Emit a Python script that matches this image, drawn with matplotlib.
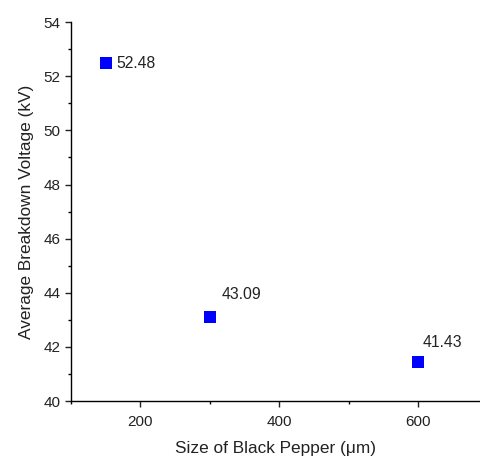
import numpy as np
import matplotlib
matplotlib.use("Agg")
from matplotlib import pyplot as plt
from matplotlib.ticker import MultipleLocator

#data
sizes = [150, 300, 600]
voltages = [52.48, 43.09, 41.43]
labels = ["52.48", "43.09", "41.43"]
#label offsets in pixels from each point
offsets = [(11, 0), (32, 23), (24, 20)]
aligns = ["left", "center", "center"]

plt.rcParams['font.family'] = ['Liberation Sans', 'DejaVu Sans']

fig = plt.figure(figsize=(4.81, 4.61), dpi=100)
ax = fig.add_axes([0.1476, 0.130, 0.8524, 0.822])

ax.plot(sizes, voltages, linestyle='none', marker='s', markersize=9.3,
        color='#0000ff', markeredgewidth=0)

for x, y, t, off, ha in zip(sizes, voltages, labels, offsets, aligns):
    ax.annotate(t, (x, y), xytext=off, textcoords='offset pixels',
                ha=ha, va='center', fontsize=11.3, color='#222222')

ax.set_xlim(100, 690)
ax.set_ylim(40, 54)
ax.xaxis.set_major_locator(MultipleLocator(200))
ax.xaxis.set_minor_locator(MultipleLocator(100))
ax.yaxis.set_major_locator(MultipleLocator(2))
ax.yaxis.set_minor_locator(MultipleLocator(1))

ax.spines['top'].set_visible(False)
ax.spines['right'].set_visible(False)
ax.spines['left'].set_linewidth(1.0)
ax.spines['bottom'].set_linewidth(1.0)
ax.tick_params(which='major', direction='out', length=4, width=1, labelsize=11, colors='#222222')
ax.tick_params(axis='x', which='major', pad=6)
ax.tick_params(which='minor', direction='out', length=2.5, width=1)

ax.set_xlabel("Size of Black Pepper (\u03bcm)", fontsize=12.4, color='#222222', labelpad=9)
ax.set_ylabel("Average Breakdown Voltage (kV)", fontsize=12.4, color='#222222', labelpad=7)

fig.savefig("out.png", dpi=100)
